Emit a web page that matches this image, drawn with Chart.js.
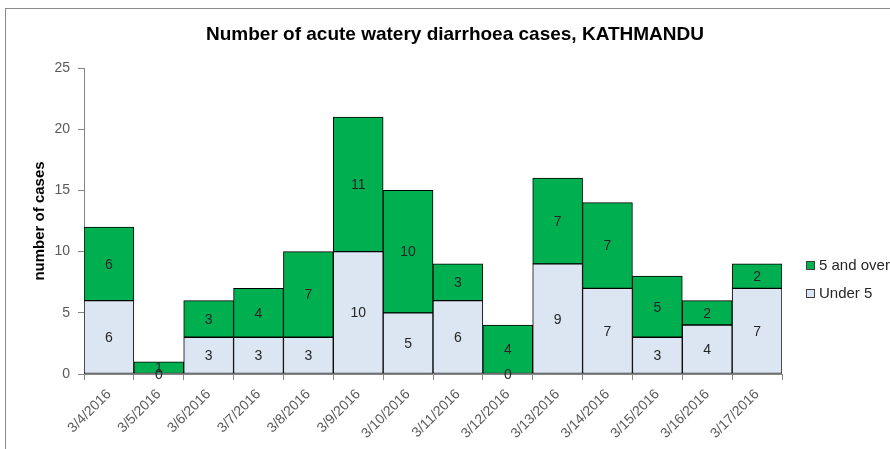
<!DOCTYPE html>
<html>
<head>
<meta charset="utf-8">
<script src="https://cdn.jsdelivr.net/npm/chart.js@4"></script>
<style>
html, body { margin: 0; padding: 0; background: #fff; }
#wrap { position: relative; width: 890px; height: 449px; overflow: hidden; }
#frame { position: absolute; left: 5px; top: 8px; width: 900px; height: 460px; border: 1px solid #8c8c8c; }
canvas { position: absolute; left: 0; top: 0; }
</style>
</head>
<body>
<div id="wrap">
  <div id="frame"></div>
  <canvas id="chart" width="890" height="449"></canvas>
</div>
<script>
const categories = ["3/4/2016", "3/5/2016", "3/6/2016", "3/7/2016", "3/8/2016", "3/9/2016", "3/10/2016",
  "3/11/2016", "3/12/2016", "3/13/2016", "3/14/2016", "3/15/2016", "3/16/2016", "3/17/2016"];
const under5 = [6, 0, 3, 3, 3, 10, 5, 6, 0, 9, 7, 3, 4, 7];
const over5 = [6, 1, 3, 4, 7, 11, 10, 3, 4, 7, 7, 5, 2, 2];
const yTicks = [0, 5, 10, 15, 20, 25];

const titleText = "Number of acute watery diarrhoea cases, KATHMANDU";
const fontName = '"Liberation Sans", Arial, sans-serif';

// numbers in the middle of each segment, zeros included
const valueLabels = {
  id: "valueLabels",
  afterDatasetsDraw(chart) {
    const ctx = chart.ctx;
    ctx.save();
    ctx.font = "14px " + fontName;
    ctx.fillStyle = "#262626";
    ctx.textAlign = "center";
    ctx.textBaseline = "middle";
    chart.data.datasets.forEach(function (ds, i) {
      chart.getDatasetMeta(i).data.forEach(function (bar, j) {
        const p = bar.getProps(["x", "y", "base"], true);
        ctx.fillText(ds.data[j], p.x, (p.y + p.base) / 2 + 1);
      });
    });
    ctx.restore();
  }
};

// title and legend drawn by hand so they sit where the original has them
const titleAndLegend = {
  id: "titleAndLegend",
  afterDraw(chart) {
    const ctx = chart.ctx;
    ctx.save();
    ctx.font = "bold 19px " + fontName;
    ctx.fillStyle = "#000";
    ctx.textAlign = "center";
    ctx.textBaseline = "middle";
    ctx.fillText(titleText, 455, 35);

    const items = chart.data.datasets.slice().reverse();
    ctx.font = "15px " + fontName;
    ctx.textAlign = "left";
    items.forEach(function (ds, k) {
      const y = 266 + k * 28;
      ctx.fillStyle = ds.backgroundColor;
      ctx.fillRect(806, y - 5, 9, 9);
      ctx.strokeStyle = "#404040";
      ctx.lineWidth = 1;
      ctx.strokeRect(806.5, y - 4.5, 8, 8);
      ctx.fillStyle = "#262626";
      ctx.fillText(ds.label, 819, y);
    });
    ctx.restore();
  }
};

const ctx = document.getElementById("chart").getContext("2d");
const myChart = new Chart(ctx, {
  type: "bar",
  data: {
    labels: categories,
    datasets: [
      {
        label: "Under 5",
        data: under5,
        backgroundColor: "#dce6f2",
        borderColor: "#000",
        borderWidth: 1,
        borderSkipped: false,
        barPercentage: 1,
        categoryPercentage: 1
      },
      {
        label: "5 and over",
        data: over5,
        backgroundColor: "#00b050",
        borderColor: "#000",
        borderWidth: 1,
        borderSkipped: false,
        barPercentage: 1,
        categoryPercentage: 1
      }
    ]
  },
  options: {
    responsive: false,
    animation: false,
    layout: { padding: { left: 20, right: 108, top: 68, bottom: 0 } },
    plugins: {
      legend: { display: false },
      title: { display: false },
      tooltip: { enabled: false }
    },
    scales: {
      x: {
        stacked: true,
        grid: { offset: true, drawOnChartArea: false, tickLength: 6, color: "#868686" },
        border: { color: "#868686" },
        ticks: {
          minRotation: 45,
          maxRotation: 45,
          color: "#595959",
          font: { family: fontName, size: 14 },
          padding: 6
        },
        afterFit: function (s) { s.height = 75; }
      },
      y: {
        stacked: true,
        min: 0,
        max: 25,
        afterBuildTicks: function (s) {
          s.ticks = yTicks.map(function (v) { return { value: v }; });
        },
        grid: { drawOnChartArea: false, tickLength: 6, color: "#868686" },
        border: { color: "#868686" },
        ticks: {
          color: "#595959",
          font: { family: fontName, size: 14 },
          padding: 8
        },
        title: {
          display: true,
          text: "number of cases",
          color: "#000",
          font: { family: fontName, size: 15, weight: "bold" },
          padding: { top: 11, bottom: 0 }
        },
        afterFit: function (s) { s.width = 64; }
      }
    }
  },
  plugins: [valueLabels, titleAndLegend]
});
</script>
</body>
</html>
